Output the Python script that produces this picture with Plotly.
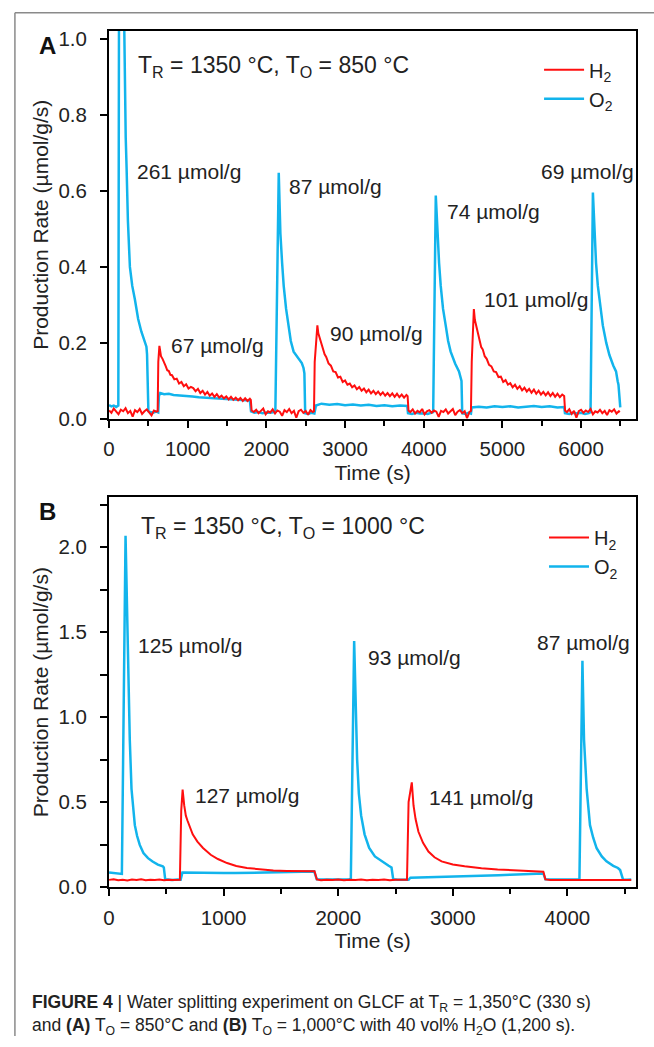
import plotly.graph_objects as go

# ---------------- Panel A data (T_R = 1350 C, T_O = 850 C) ----------------
a_h2_t = [0, 30, 60, 90, 120, 150, 180, 210, 240, 270, 300, 330, 360, 390, 420, 450, 480, 510, 540, 570, 600, 618,
          626, 640, 648, 660, 680, 700, 720, 740, 760, 780, 800, 830, 860, 890, 920, 950, 980, 1010, 1040, 1070,
          1100, 1130, 1160, 1190, 1220, 1250, 1280, 1310, 1340, 1370, 1400, 1430, 1460, 1490, 1520, 1550, 1580,
          1610, 1640, 1670, 1700, 1730, 1760, 1790, 1802,
          1812, 1840, 1870, 1900, 1930, 1960, 1990, 2020, 2050, 2080, 2110, 2140, 2170, 2200, 2230, 2260, 2290,
          2320, 2350, 2380, 2410, 2440, 2470, 2500, 2530, 2560, 2590, 2605,
          2614, 2640, 2648, 2660, 2680, 2700, 2720, 2740, 2760, 2790, 2820, 2850, 2880, 2910, 2940, 2970, 3000,
          3030, 3060, 3090, 3120, 3150, 3180, 3210, 3240, 3270, 3300, 3330, 3360, 3390, 3420, 3450, 3480, 3510,
          3540, 3570, 3600, 3630, 3660, 3690, 3720, 3750, 3780, 3795,
          3806, 3830, 3860, 3890, 3920, 3950, 3980, 4010, 4040, 4070, 4100, 4130, 4160, 4190, 4220, 4250, 4280,
          4310, 4340, 4370, 4400, 4430, 4460, 4490, 4520, 4550, 4580, 4600,
          4610, 4630, 4637, 4650, 4670, 4690, 4710, 4730, 4750, 4775, 4800, 4830, 4860, 4890, 4920, 4950, 4980,
          5010, 5040, 5070, 5100, 5130, 5160, 5190, 5220, 5250, 5280, 5310, 5340, 5370, 5400, 5430, 5460, 5490,
          5520, 5550, 5580, 5610, 5640, 5670, 5700, 5730, 5760, 5785,
          5796, 5820, 5850, 5880, 5910, 5940, 5970, 6000, 6030, 6060, 6090, 6120, 6150, 6180, 6210, 6240, 6270,
          6300, 6330, 6360, 6390, 6420, 6450, 6480, 6490]
a_h2_v = [0.022, 0.016, 0.027, 0.019, 0.012, 0.024, 0.020, 0.028, 0.015, 0.021, 0.006, 0.023, 0.018, 0.026, 0.013,
          0.020, 0.025, 0.017, 0.009, 0.022, 0.019, 0.020,
          0.150, 0.192, 0.178, 0.165, 0.158, 0.146, 0.139, 0.128, 0.126, 0.116, 0.115, 0.104, 0.106, 0.093, 0.097,
          0.086, 0.091, 0.080, 0.084, 0.081, 0.073, 0.079, 0.068, 0.074, 0.064, 0.071, 0.061, 0.067, 0.058, 0.065,
          0.056, 0.061, 0.054, 0.059, 0.051, 0.058, 0.050, 0.056, 0.049, 0.055, 0.047, 0.054, 0.047, 0.053, 0.050,
          0.022, 0.018, 0.024, 0.015, 0.021, 0.027, 0.012, 0.020, 0.017, 0.025, 0.014, 0.022, 0.019, 0.008, 0.023,
          0.018, 0.026, 0.015, 0.021, 0.003, 0.020, 0.024, 0.016, 0.021, 0.011, 0.023, 0.018, 0.020,
          0.150, 0.240, 0.246, 0.225, 0.212, 0.193, 0.183, 0.170, 0.163, 0.146, 0.140, 0.125, 0.123, 0.109, 0.111,
          0.097, 0.101, 0.090, 0.093, 0.083, 0.088, 0.078, 0.084, 0.074, 0.080, 0.070, 0.077, 0.067, 0.074, 0.065,
          0.072, 0.063, 0.070, 0.061, 0.068, 0.060, 0.067, 0.058, 0.066, 0.057, 0.064, 0.056, 0.063, 0.060,
          0.022, 0.018, 0.025, 0.014, 0.021, 0.017, 0.026, 0.012, 0.020, 0.023, 0.016, 0.022, 0.019, 0.005, 0.021,
          0.018, 0.025, 0.014, 0.020, 0.026, 0.010, 0.019, 0.023, 0.015, 0.020, 0.002, 0.018, 0.021,
          0.150, 0.280, 0.289, 0.260, 0.243, 0.222, 0.208, 0.189, 0.183, 0.165, 0.158, 0.142, 0.138, 0.125, 0.123,
          0.110, 0.111, 0.097, 0.102, 0.090, 0.094, 0.083, 0.090, 0.079, 0.086, 0.075, 0.082, 0.072, 0.079, 0.069,
          0.077, 0.066, 0.074, 0.064, 0.071, 0.062, 0.070, 0.060, 0.068, 0.058, 0.066, 0.057, 0.064, 0.060,
          0.022, 0.018, 0.025, 0.013, 0.021, 0.003, 0.020, 0.024, 0.016, 0.022, 0.018, 0.026, 0.012, 0.020, 0.017,
          0.024, 0.015, 0.021, 0.010, 0.023, 0.019, 0.025, 0.014, 0.020, 0.017]

a_o2_t = [0, 30, 60, 90, 110, 118, 130, 150, 170, 192, 202, 212, 223, 240, 265, 295, 328, 370, 410, 454, 475, 483,
          500, 520, 560, 600, 625, 634, 650, 700, 760, 820, 900, 980, 1060, 1140, 1220, 1300, 1380, 1460, 1540,
          1620, 1700, 1790, 1805, 1850, 1900, 1950, 2000, 2050, 2100, 2114, 2157, 2178, 2200, 2220, 2250, 2282,
          2310, 2346, 2400, 2450, 2472, 2483, 2493, 2530, 2570, 2610, 2630, 2700, 2800, 2900, 3000, 3100, 3200,
          3300, 3400, 3500, 3600, 3700, 3790, 3800, 3850, 3900, 3950, 4000, 4050, 4100, 4120, 4153, 4174, 4195,
          4216, 4245, 4279, 4310, 4342, 4400, 4448, 4468, 4480, 4489, 4530, 4570, 4600, 4610, 4700, 4800, 4900,
          5000, 5100, 5200, 5300, 5400, 5500, 5600, 5700, 5785, 5795, 5850, 5900, 5950, 6000, 6050, 6100, 6120,
          6150, 6171, 6190, 6213, 6245, 6276, 6320, 6360, 6410, 6444, 6465, 6475, 6498]
a_o2_v = [0.036, 0.033, 0.035, 0.031, 0.034, 0.035, 1.500, 1.700, 1.500, 1.050, 0.834, 0.740, 0.661, 0.520, 0.400,
          0.350, 0.315, 0.263, 0.230, 0.203, 0.190, 0.170, 0.020, 0.018, 0.016, 0.019, 0.017, 0.060, 0.068, 0.065,
          0.066, 0.063, 0.062, 0.060, 0.059, 0.057, 0.056, 0.055, 0.053, 0.052, 0.051, 0.050, 0.049, 0.048, 0.020,
          0.016, 0.018, 0.015, 0.017, 0.016, 0.018, 0.020, 0.648, 0.488, 0.410, 0.350, 0.290, 0.237, 0.205, 0.177,
          0.160, 0.147, 0.134, 0.120, 0.015, 0.013, 0.016, 0.014, 0.035, 0.040, 0.037, 0.039, 0.036, 0.038, 0.035,
          0.037, 0.034, 0.036, 0.033, 0.035, 0.034, 0.015, 0.013, 0.016, 0.014, 0.015, 0.013, 0.016, 0.018, 0.588,
          0.488, 0.410, 0.350, 0.290, 0.246, 0.205, 0.177, 0.145, 0.125, 0.112, 0.100, 0.015, 0.013, 0.016, 0.014,
          0.030, 0.032, 0.030, 0.033, 0.031, 0.033, 0.030, 0.032, 0.034, 0.031, 0.033, 0.030, 0.031, 0.015, 0.013,
          0.016, 0.014, 0.016, 0.013, 0.015, 0.018, 0.596, 0.488, 0.410, 0.350, 0.290, 0.246, 0.200, 0.168, 0.140,
          0.125, 0.099, 0.090, 0.030]

# ---------------- Panel B data (T_R = 1350 C, T_O = 1000 C) ----------------
b_h2_t = [0, 40, 80, 120, 160, 200, 240, 280, 320, 360, 400, 440, 480, 520, 560, 600, 618, 630, 642, 656, 670, 685,
          700, 730, 771, 820, 887, 950, 1030, 1110, 1203, 1300, 1434, 1550, 1664, 1793, 1813, 1850, 1900, 1950,
          2000, 2050, 2100, 2150, 2200, 2250, 2300, 2350, 2400, 2450, 2500, 2550, 2600, 2614, 2642, 2657, 2675,
          2700, 2740, 2787, 2840, 2902, 3000, 3103, 3250, 3391, 3550, 3650, 3765, 3790, 3808, 3850, 3950, 4100,
          4300, 4557]
b_h2_v = [0.042, 0.045, 0.040, 0.043, 0.039, 0.044, 0.041, 0.045, 0.040, 0.043, 0.041, 0.044, 0.040, 0.043, 0.041,
          0.044, 0.042, 0.450, 0.573, 0.480, 0.420, 0.390, 0.364, 0.310, 0.267, 0.230, 0.190, 0.165, 0.141, 0.124,
          0.112, 0.104, 0.097, 0.095, 0.093, 0.093, 0.045, 0.040, 0.043, 0.041, 0.044, 0.040, 0.043, 0.041, 0.044,
          0.040, 0.043, 0.041, 0.044, 0.040, 0.043, 0.041, 0.043, 0.500, 0.616, 0.480, 0.400, 0.325, 0.260, 0.209,
          0.175, 0.151, 0.133, 0.122, 0.110, 0.103, 0.097, 0.095, 0.093, 0.090, 0.045, 0.041, 0.042, 0.041, 0.042,
          0.041]

b_o2_t = [0, 50, 100, 112, 144, 158, 167, 181, 196, 210, 225, 245, 268, 300, 340, 380, 426, 469, 478, 490, 550, 600,
          625, 640, 700, 800, 900, 1000, 1100, 1200, 1300, 1400, 1500, 1600, 1700, 1790, 1813, 1900, 2000, 2100,
          2110, 2139, 2152, 2165, 2180, 2200, 2230, 2270, 2320, 2380, 2440, 2465, 2480, 2520, 2580, 2614, 2630,
          2700, 2800, 2900, 3000, 3100, 3200, 3300, 3400, 3500, 3600, 3700, 3790, 3808, 3900, 4000, 4100, 4105,
          4131, 4145, 4168, 4197, 4225, 4255, 4300, 4341, 4400, 4441, 4460, 4485, 4520, 4557]
b_o2_v = [0.085, 0.082, 0.078, 0.077, 2.067, 1.640, 1.254, 0.867, 0.577, 0.450, 0.364, 0.300, 0.248, 0.200, 0.170,
          0.150, 0.132, 0.122, 0.115, 0.045, 0.042, 0.044, 0.043, 0.085, 0.084, 0.083, 0.082, 0.083, 0.082, 0.084,
          0.083, 0.085, 0.086, 0.088, 0.090, 0.092, 0.045, 0.043, 0.044, 0.045, 0.050, 1.448, 1.050, 0.750, 0.550,
          0.420, 0.310, 0.230, 0.180, 0.150, 0.125, 0.115, 0.045, 0.043, 0.044, 0.043, 0.055, 0.056, 0.058, 0.060,
          0.062, 0.064, 0.066, 0.068, 0.070, 0.072, 0.075, 0.078, 0.080, 0.045, 0.043, 0.044, 0.045, 0.050, 1.332,
          0.867, 0.577, 0.364, 0.290, 0.228, 0.180, 0.151, 0.125, 0.112, 0.100, 0.045, 0.043, 0.044]

# labels (text, time, value)
a_labels = ["261 µmol/g", "67 µmol/g", "87 µmol/g", "90 µmol/g", "74 µmol/g", "101 µmol/g", "69 µmol/g"]
a_label_t = [328, 757, 2261, 2787, 4271, 4741, 5465]
a_label_v = [0.650, 0.192, 0.611, 0.224, 0.546, 0.315, 0.651]
b_labels = ["125 µmol/g", "127 µmol/g", "93 µmol/g", "141 µmol/g", "87 µmol/g"]
b_label_t = [239, 737, 2240, 2772, 3715]
b_label_v = [1.419, 0.538, 1.351, 0.528, 1.438]

a_x_ticks = [0, 1000, 2000, 3000, 4000, 5000, 6000]
a_y_ticks = [0.0, 0.2, 0.4, 0.6, 0.8, 1.0]
b_x_ticks = [0, 1000, 2000, 3000, 4000]
b_y_ticks = [0.0, 0.5, 1.0, 1.5, 2.0]

RED = "#ff0f0f"
BLUE = "#12b4ec"
FONT = "Liberation Sans"
W, H = 654, 1047

fig = go.Figure()
# O2 first (drawn below), H2 on top
fig.add_trace(go.Scatter(x=a_o2_t, y=a_o2_v, mode="lines", name="O<sub>2</sub>", line=dict(color=BLUE, width=2.5),
                         xaxis="x", yaxis="y", legend="legend", legendrank=2))
fig.add_trace(go.Scatter(x=a_h2_t, y=a_h2_v, mode="lines", name="H<sub>2</sub>", line=dict(color=RED, width=2),
                         xaxis="x", yaxis="y", legend="legend", legendrank=1))
fig.add_trace(go.Scatter(x=b_o2_t, y=b_o2_v, mode="lines", name="O<sub>2</sub>", line=dict(color=BLUE, width=2.5),
                         xaxis="x2", yaxis="y2", legend="legend2", legendrank=2))
fig.add_trace(go.Scatter(x=b_h2_t, y=b_h2_v, mode="lines", name="H<sub>2</sub>", line=dict(color=RED, width=2),
                         xaxis="x2", yaxis="y2", legend="legend2", legendrank=1))

xdom = [104 / W, 636 / W]
ya_dom = [1 - 421.5 / H, 1 - 28 / H]
yb_dom = [1 - 896 / H, 1 - 501 / H]

axis_common = dict(showline=True, linecolor="black", linewidth=2, mirror=True, ticks="outside", ticklen=7,
                   tickwidth=1.5, tickcolor="black", showgrid=False, zeroline=False,
                   tickfont=dict(family=FONT, size=20.5, color="#222"))

fig.update_layout(
    width=W, height=H, margin=dict(l=0, r=0, t=0, b=0), plot_bgcolor="white", paper_bgcolor="white",
    font=dict(family=FONT, color="#222"),
    xaxis=dict(domain=xdom, anchor="y", range=[0, 6700], tickvals=a_x_ticks, ticklabelstandoff=4,
               minor=dict(dtick=500, tick0=0, ticks="outside", ticklen=5, tickcolor="black", tickwidth=1.5),
               title=dict(text="Time (s)", font=dict(size=21, family=FONT), standoff=6), **axis_common),
    yaxis=dict(domain=ya_dom, anchor="x", range=[0, 1.022], tickvals=a_y_ticks, tickformat=".1f",
               ticklabelstandoff=9,
               title=dict(text="Production Rate (µmol/g/s)", font=dict(size=21, family=FONT), standoff=4),
               **axis_common),
    xaxis2=dict(domain=xdom, anchor="y2", range=[0, 4600], tickvals=b_x_ticks, ticklabelstandoff=4,
                minor=dict(dtick=500, tick0=0, ticks="outside", ticklen=5, tickcolor="black", tickwidth=1.5),
                title=dict(text="Time (s)", font=dict(size=21, family=FONT), standoff=6), **axis_common),
    yaxis2=dict(domain=yb_dom, anchor="x2", range=[0, 2.294], tickvals=b_y_ticks, tickformat=".1f",
                ticklabelstandoff=9,
                minor=dict(dtick=0.25, tick0=0, ticks="outside", ticklen=7, tickcolor="black", tickwidth=1.5),
                title=dict(text="Production Rate (µmol/g/s)", font=dict(size=21, family=FONT), standoff=4),
                **axis_common),
    legend=dict(x=538 / W, y=1 - 48 / H, xanchor="left", yanchor="top", bgcolor="rgba(0,0,0,0)",
                font=dict(size=20, color="#222", family=FONT), traceorder="normal", tracegroupgap=0,
                itemwidth=40),
    legend2=dict(x=543 / W, y=1 - 522 / H, xanchor="left", yanchor="top", bgcolor="rgba(0,0,0,0)",
                 font=dict(size=20, color="#222", family=FONT), traceorder="normal", tracegroupgap=0,
                 itemwidth=40),
    showlegend=True,
)

ann = []
for txt, t, v in zip(a_labels, a_label_t, a_label_v):
    ann.append(dict(text=txt, x=t, y=v, xref="x", yref="y", xanchor="left", yanchor="middle", showarrow=False,
                    font=dict(size=21, color="#222", family=FONT)))
for txt, t, v in zip(b_labels, b_label_t, b_label_v):
    ann.append(dict(text=txt, x=t, y=v, xref="x2", yref="y2", xanchor="left", yanchor="middle", showarrow=False,
                    font=dict(size=21, color="#222", family=FONT)))
ann.append(dict(text="T<sub>R</sub> = 1350 °C, T<sub>O</sub> = 850 °C", x=131 / W, y=1 - 64 / H, xref="paper",
                yref="paper", xanchor="left", yanchor="middle", showarrow=False,
                font=dict(size=23, color="#222", family=FONT)))
ann.append(dict(text="T<sub>R</sub> = 1350 °C, T<sub>O</sub> = 1000 °C", x=134 / W, y=1 - 532 / H, xref="paper",
                yref="paper", xanchor="left", yanchor="middle", showarrow=False,
                font=dict(size=23, color="#222", family=FONT)))
ann.append(dict(text="<b>A</b>", x=42 / W, y=1 - 43 / H, xref="paper", yref="paper", xanchor="center",
                yanchor="middle", showarrow=False, font=dict(size=24, color="#111", family=FONT)))
ann.append(dict(text="<b>B</b>", x=42 / W, y=1 - 515 / H, xref="paper", yref="paper", xanchor="center",
                yanchor="middle", showarrow=False, font=dict(size=24, color="#111", family=FONT)))
ann.append(dict(text="<b>FIGURE 4</b> | Water splitting experiment on GLCF at T<sub>R</sub> = 1,350°C (330 s)",
                x=24 / W, y=1 - 1014 / H, xref="paper", yref="paper", xanchor="left", yanchor="middle",
                showarrow=False, font=dict(size=17.5, color="#222", family=FONT)))
ann.append(dict(text="and <b>(A)</b> T<sub>O</sub> = 850°C and <b>(B)</b> T<sub>O</sub> = 1,000°C with 40 vol% H<sub>2</sub>O (1,200 s).",
                x=24 / W, y=1 - 1037 / H, xref="paper", yref="paper", xanchor="left", yanchor="middle",
                showarrow=False, font=dict(size=17.5, color="#222", family=FONT)))
fig.update_layout(annotations=ann)

fig.update_layout(shapes=[
    dict(type="line", xref="paper", yref="paper", x0=9 / W, x1=1, y0=1 - 10 / H, y1=1 - 10 / H,
         line=dict(color="#8a8a8a", width=1.5)),
    dict(type="line", xref="paper", yref="paper", x0=9 / W, x1=9 / W, y0=1 - 10 / H, y1=0,
         line=dict(color="#8a8a8a", width=1.5)),
])

fig.write_html("out.html", config={"displayModeBar": False},
               post_script="document.body.style.margin='0';document.body.style.overflow='hidden';")
